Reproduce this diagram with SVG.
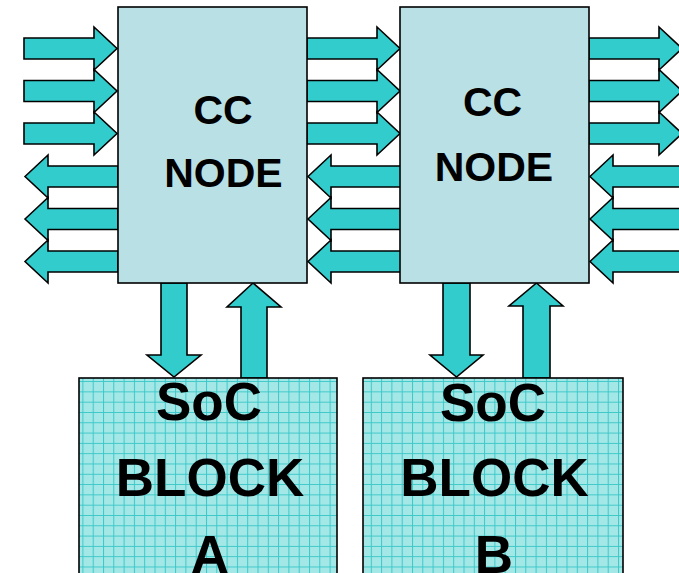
<svg xmlns="http://www.w3.org/2000/svg" width="679" height="573" viewBox="0 0 679 573">
<style>
.arr{fill:#33cccc;stroke:#000;stroke-width:1.6;stroke-linejoin:miter}
.cc{fill:#b9e1e5;stroke:#000;stroke-width:1.6}
.soc{fill:url(#grid);stroke:#000;stroke-width:1.6}
.t1{font-family:"Liberation Sans",Arial,sans-serif;font-weight:bold;font-size:41px;fill:#000;text-anchor:middle}
.t2{font-family:"Liberation Sans",Arial,sans-serif;font-weight:bold;font-size:53px;fill:#000;text-anchor:middle}
</style>
<defs>
<pattern id="grid" x="0" y="0" width="10.3" height="10.3" patternUnits="userSpaceOnUse">
<rect width="10.3" height="10.3" fill="#a4e7e7"/>
<path d="M0 0.5H10.3M0.5 0V10.3" stroke="#3cc8c8" stroke-width="1" fill="none"/>
</pattern>
<polygon id="rA" points="0,-10.5 70,-10.5 70,-21.5 93,0 70,21.5 70,10.5 0,10.5"/>
<polygon id="lA" points="0,0 23,-21.5 23,-10.5 93,-10.5 93,10.5 23,10.5 23,21.5"/>
</defs>
<g id="connectors">
<use href="#rA" class="arr" x="24" y="48.5"/>
<use href="#rA" class="arr" x="24" y="91"/>
<use href="#rA" class="arr" x="24" y="133.5"/>
<use href="#lA" class="arr" x="25" y="176.5"/>
<use href="#lA" class="arr" x="25" y="219"/>
<use href="#lA" class="arr" x="25" y="261.5"/>
<use href="#rA" class="arr" x="307" y="48.5"/>
<use href="#rA" class="arr" x="307" y="91"/>
<use href="#rA" class="arr" x="307" y="133.5"/>
<use href="#lA" class="arr" x="308" y="176.5"/>
<use href="#lA" class="arr" x="308" y="219"/>
<use href="#lA" class="arr" x="308" y="261.5"/>
<use href="#rA" class="arr" x="589" y="48.5"/>
<use href="#rA" class="arr" x="589" y="91"/>
<use href="#rA" class="arr" x="589" y="133.5"/>
<use href="#lA" class="arr" x="590" y="176.5"/>
<use href="#lA" class="arr" x="590" y="219"/>
<use href="#lA" class="arr" x="590" y="261.5"/>
<polygon class="arr" points="161,283 187,283 187,355 201,355 174,377 147,355 161,355"/>
<polygon class="arr" points="253,283 281,307 267,307 267,378 241,378 241,307 227,307"/>
<polygon class="arr" points="443,283 470,283 470,355 483,355 456.5,377 430,355 443,355"/>
<polygon class="arr" points="536.5,283 563,306 550,306 550,378 523,378 523,306 509,306"/>
</g>
<g id="ccA">
<rect class="cc" x="118" y="7" width="189" height="276"/>
<text class="t1" x="223" y="124">CC</text>
<text class="t1" x="223.5" y="187">NODE</text>
</g>
<g id="ccB">
<rect class="cc" x="400" y="7" width="189" height="276"/>
<text class="t1" x="492.5" y="116">CC</text>
<text class="t1" x="494" y="181">NODE</text>
</g>
<g id="socA">
<rect class="soc" x="79" y="378" width="258" height="205"/>
<text class="t2" x="209" y="420">SoC</text>
<text class="t2" x="210" y="496">BLOCK</text>
<text class="t2" x="210" y="573">A</text>
</g>
<g id="socB">
<rect class="soc" x="363" y="378" width="260" height="205"/>
<text class="t2" x="493" y="421">SoC</text>
<text class="t2" x="494.5" y="496">BLOCK</text>
<text class="t2" x="494" y="573">B</text>
</g>
</svg>
